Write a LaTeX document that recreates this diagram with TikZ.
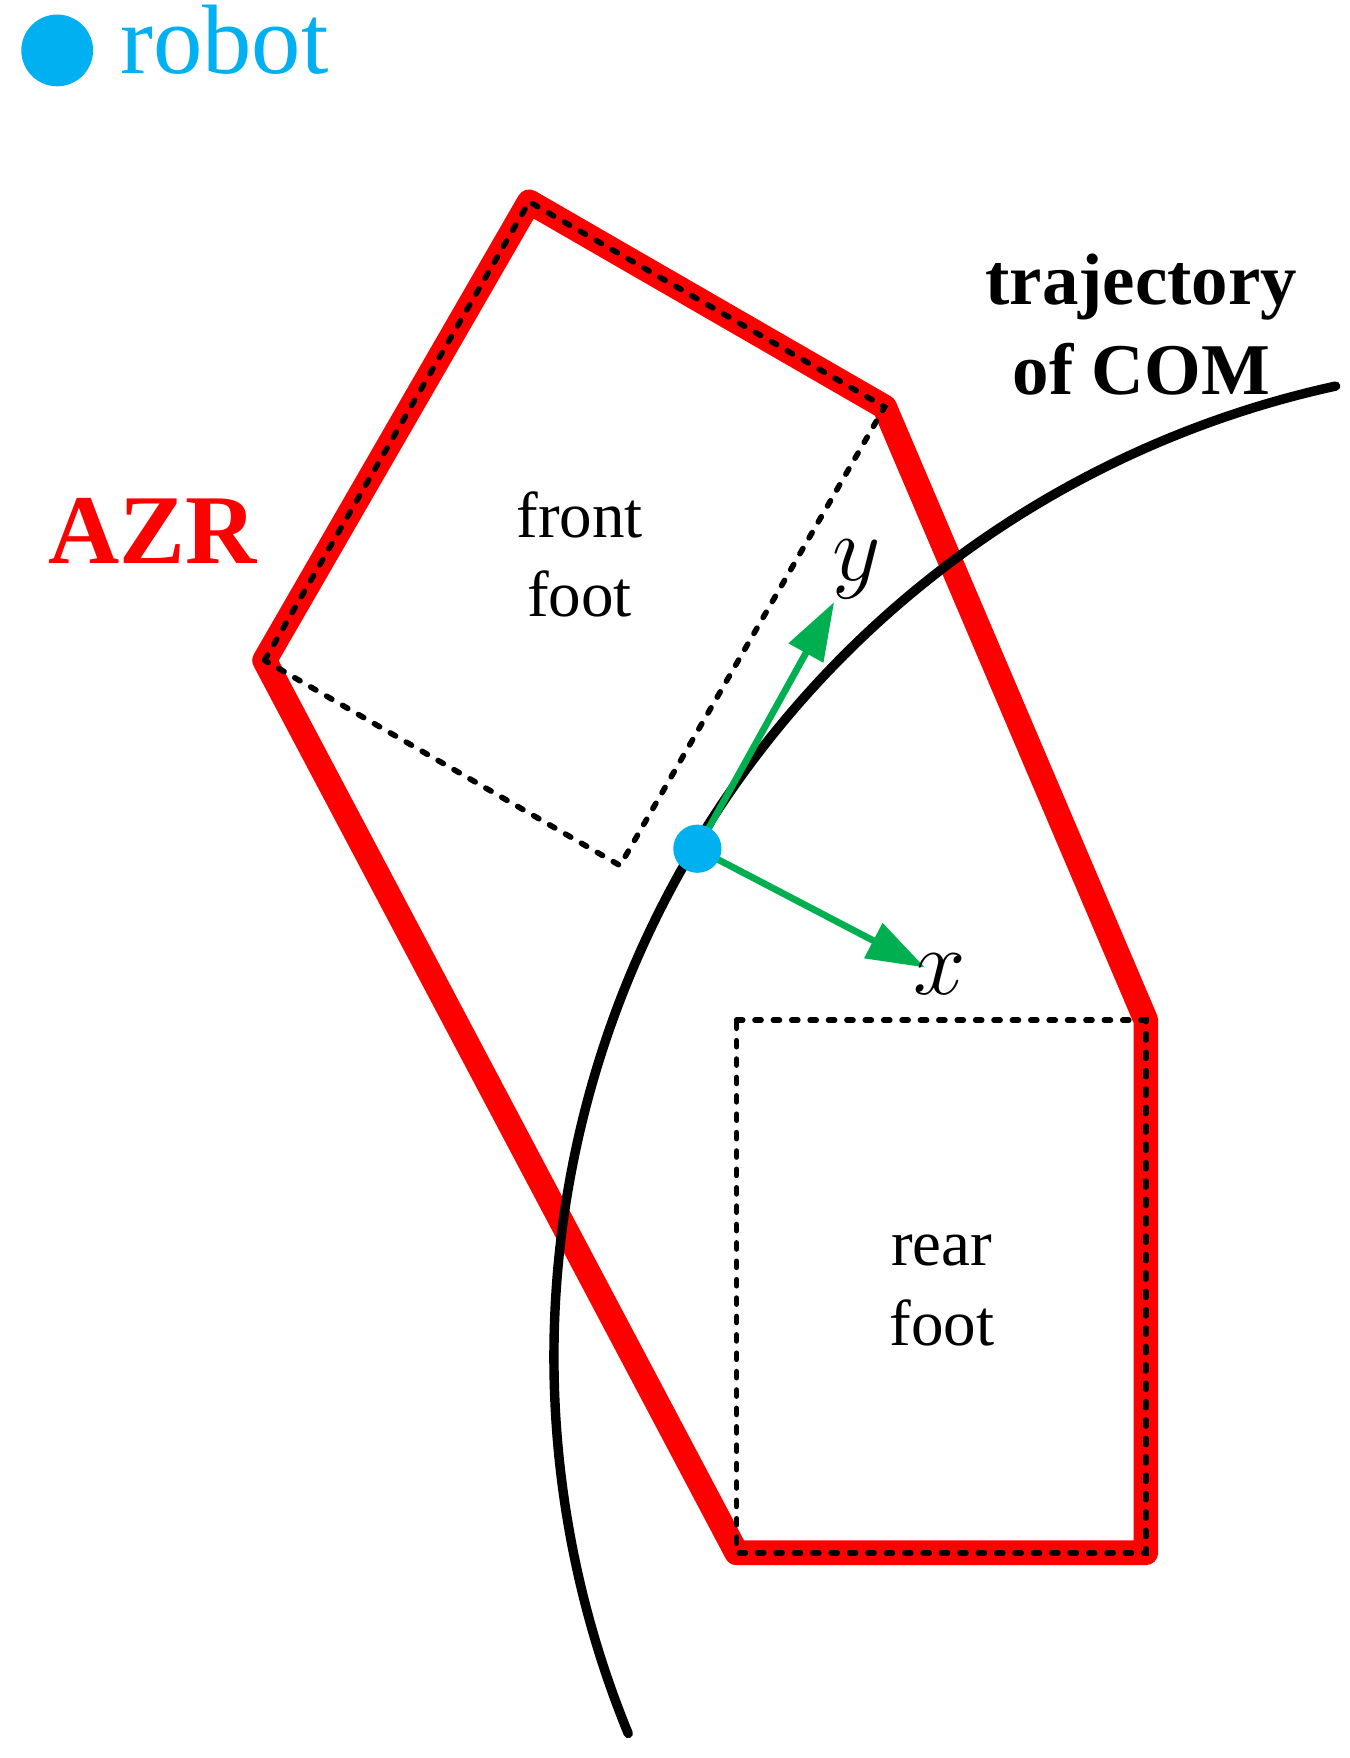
\RequirePackage{fix-cm}
\documentclass[tikz,border=0pt]{standalone}
\usepackage{fontspec}
\setmainfont{Liberation Serif}
\usetikzlibrary{arrows.meta}
\definecolor{azrred}{RGB}{255,0,0}
\definecolor{robotblue}{RGB}{0,176,240}
\definecolor{axisgreen}{RGB}{0,176,80}

\begin{document}
\begin{tikzpicture}[x=5pt, y=5pt,
  azr/.style={azrred, line width=11pt, line join=round},
  footline/.style={black, line width=2.5pt, line cap=round, dash pattern=on 2.7pt off 5.5pt},
  axisarrow/.style={axisgreen, line width=3pt, -{Triangle[length=26pt, width=17pt]}},
  robotdot/.style={circle, fill=robotblue, inner sep=0pt, minimum size=21.5pt},
  axislabel/.style={inner sep=0pt, font=\fontsize{42}{42}\selectfont},
  footlabel/.style={align=center, inner sep=0pt, anchor=base, font=\fontsize{29}{35.5}\selectfont}]
\useasboundingbox (0,0) rectangle (120.4,156.8);
% corners of the two feet
\coordinate (FL) at (23.6,97.9);
\coordinate (FT) at (47.2,138.8);
\coordinate (FR) at (78.9,120.5);
\coordinate (FB) at (55.3,79.6);
\coordinate (RTL) at (65.7,65.8);
\coordinate (RTR) at (102.2,65.8);
\coordinate (RBR) at (102.2,18.3);
\coordinate (RBL) at (65.7,18.3);
\draw[azr] (FT) -- (FR) -- (RTR) -- (RBR) -- (RBL) -- (FL) -- cycle;
\draw[footline] (FL) -- (FT) -- (FR) -- (FB) -- cycle;
\draw[footline] (RTL) -- (RTR) -- (RBR) -- (RBL) -- cycle;
% trajectory of the COM
\draw[line width=4.2pt, line cap=round] (138,35.8) ++(202.3:88.6) arc[start angle=202.3, end angle=102.3, radius=88.6];
% robot frame
\coordinate (com) at (62.2,81.1);
\coordinate (ytip) at (74.4,103.1);
\coordinate (xtip) at (82.5,70.5);
\draw[axisarrow] (com) -- (ytip);
\draw[axisarrow] (com) -- (xtip);
\node[robotdot] (robot) at (com) {};
\node[axislabel] (ylabel) at (76.4,106.0) {$y$};
\node[axislabel] (xlabel) at (83.8,69.9) {$x$};
% labels
\node[footlabel] (front) at (51.7,101.8) {front\\foot};
\node[footlabel] (rear) at (84.0,36.8) {rear\\foot};
\node[align=center, inner sep=0pt, anchor=base, font=\bfseries\fontsize{32.5}{40}\selectfont] (traj) at (101.8,121.6) {trajectory\\of COM};
\node[anchor=base west, inner sep=0pt, text=azrred, font=\bfseries\fontsize{44}{44}\selectfont] (azrlabel) at (4.3,106.5) {AZR};
% legend
\fill[robotblue] (5.1,152.3) circle (3.2);
\node[anchor=base west, inner sep=0pt, text=robotblue, font=\fontsize{44}{44}\selectfont] (legend) at (10.7,150.2) {robot};
\end{tikzpicture}
\end{document}
